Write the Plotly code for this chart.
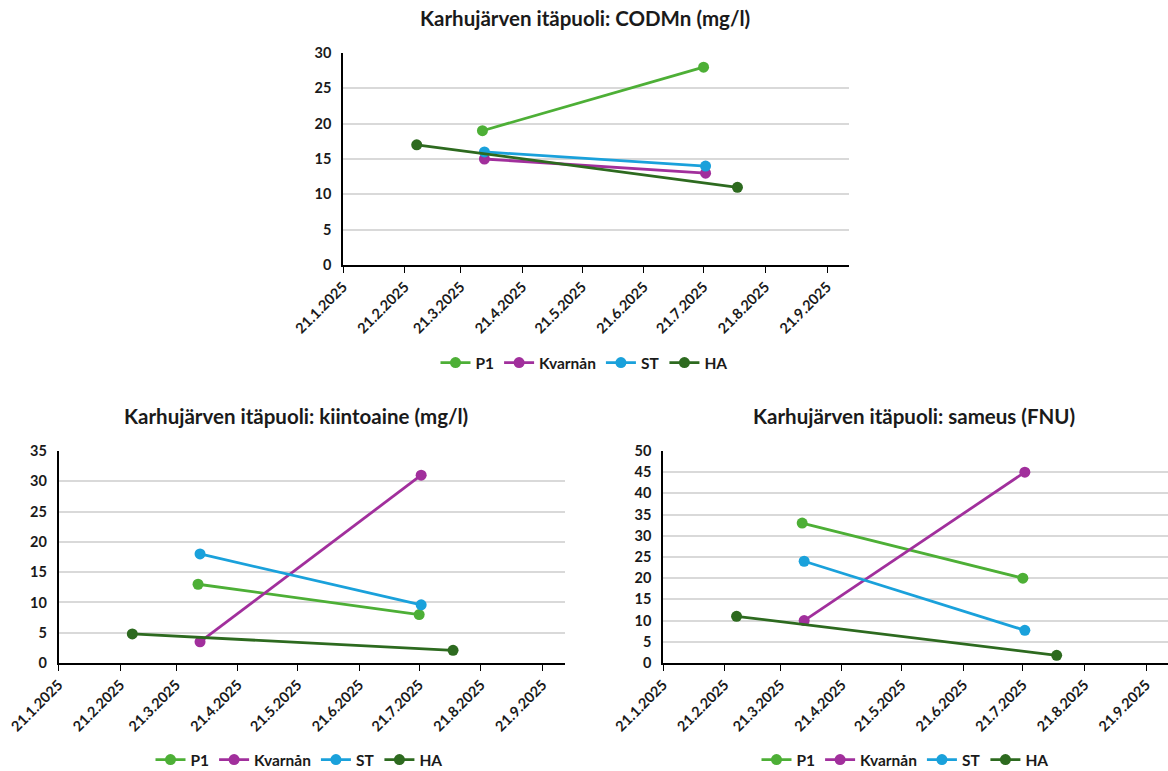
import plotly.graph_objects as go

# ---- data ----
series_names = ["P1", "Kvarnån", "ST", "HA"]
series_colors = ["#4DAF36", "#A12F9C", "#1AA1DB", "#2D6A1F"]

dates_p1 = ["2025-04-01", "2025-07-21"]
dates_kvarnan = ["2025-04-02", "2025-07-22"]
dates_st = ["2025-04-02", "2025-07-22"]
dates_ha = ["2025-02-27", "2025-08-07"]

codmn_p1 = [19, 28]
codmn_kvarnan = [15, 13]
codmn_st = [16, 14]
codmn_ha = [17, 11]

kiinto_p1 = [13, 8]
kiinto_kvarnan = [3.5, 31]
kiinto_st = [18, 9.6]
kiinto_ha = [4.8, 2.1]

sameus_p1 = [33, 20]
sameus_kvarnan = [10, 45]
sameus_st = [24, 7.7]
sameus_ha = [11, 1.8]

tick_dates = ["2025-01-21", "2025-02-21", "2025-03-21", "2025-04-21", "2025-05-21",
              "2025-06-21", "2025-07-21", "2025-08-21", "2025-09-21"]
tick_labels = ["21.1.2025", "21.2.2025", "21.3.2025", "21.4.2025", "21.5.2025",
               "21.6.2025", "21.7.2025", "21.8.2025", "21.9.2025"]

titles = ["Karhujärven itäpuoli: CODMn (mg/l)",
          "Karhujärven itäpuoli: kiintoaine (mg/l)",
          "Karhujärven itäpuoli: sameus (FNU)"]

# ---- figure ----
W, H = 1168, 771
FONT = "Lato"
TXT = "#1a1a1a"

fig = go.Figure()

all_dates = [dates_p1, dates_kvarnan, dates_st, dates_ha]
panels = [
    ([codmn_p1, codmn_kvarnan, codmn_st, codmn_ha], "x", "y", "legend"),
    ([kiinto_p1, kiinto_kvarnan, kiinto_st, kiinto_ha], "x2", "y2", "legend2"),
    ([sameus_p1, sameus_kvarnan, sameus_st, sameus_ha], "x3", "y3", "legend3"),
]
for vals, xa, ya, lg in panels:
    for name, col, d, v in zip(series_names, series_colors, all_dates, vals):
        fig.add_trace(go.Scatter(
            x=d, y=v, name=name, mode="lines+markers",
            line=dict(color=col, width=2.8),
            marker=dict(color=col, size=11),
            xaxis=xa, yaxis=ya, legend=lg,
        ))

def px_x(a, b):
    return [a / W, b / W]

def px_y(top, bottom):
    return [1 - bottom / H, 1 - top / H]

xr = ["2025-01-21", "2025-10-02"]

def xaxis(domain, anchor):
    return dict(domain=domain, anchor=anchor, type="date", range=xr, automargin=False,
                tickmode="array", tickvals=tick_dates, ticktext=tick_labels,
                tickangle=-45, showgrid=False, showline=True, linecolor="black",
                linewidth=1.5, ticks="outside", ticklen=6, tickcolor="black",
                tickwidth=1.2, zeroline=False,
                tickfont=dict(family=FONT, size=14.5, color=TXT, weight="bold"))

def yaxis(domain, anchor, ymax):
    return dict(domain=domain, anchor=anchor, range=[0, ymax], dtick=5, automargin=False,
                showgrid=True, gridcolor="#D9D9D9", gridwidth=1.5,
                showline=True, linecolor="black", linewidth=1.5, zeroline=False,
                ticks="", ticklabelstandoff=7,
                tickfont=dict(family=FONT, size=14.5, color=TXT, weight="bold"))

fig.update_layout(
    width=W, height=H, margin=dict(l=0, r=0, t=0, b=0, autoexpand=False),
    paper_bgcolor="white", plot_bgcolor="white",
    xaxis=xaxis(px_x(343, 849), "y"),
    yaxis=yaxis(px_y(53, 265), "x", 30),
    xaxis2=xaxis(px_x(58.6, 564.6), "y2"),
    yaxis2=yaxis(px_y(451, 663), "x2", 35),
    xaxis3=xaxis(px_x(663, 1168), "y3"),
    yaxis3=yaxis(px_y(451, 663), "x3", 50),
)

legend_common = dict(orientation="h", xanchor="center", yanchor="middle",
                     font=dict(family=FONT, size=15.5, color=TXT, weight="bold"),
                     bgcolor="rgba(0,0,0,0)", itemwidth=30, tracegroupgap=0)
fig.update_layout(
    legend=dict(x=584 / W, y=1 - 363 / H, **legend_common),
    legend2=dict(x=299 / W, y=1 - 760 / H, **legend_common),
    legend3=dict(x=905 / W, y=1 - 760 / H, **legend_common),
)

title_pos = [(585, 18), (296, 416), (914, 416)]
for t, (tx, ty) in zip(titles, title_pos):
    fig.add_annotation(text=t, x=tx / W, y=1 - ty / H, xref="paper", yref="paper",
                       showarrow=False, xanchor="center", yanchor="middle",
                       font=dict(family=FONT, size=20.5, color=TXT, weight="bold"))

fig.write_html("out.html", config={"displayModeBar": False},
               post_script="document.body.style.margin='0';")
